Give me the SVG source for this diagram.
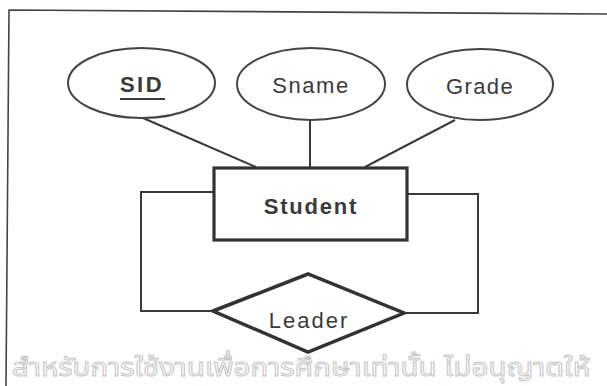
<svg xmlns="http://www.w3.org/2000/svg" width="607" height="386" viewBox="0 0 607 386">
<style>
.attr{fill:#fff;stroke:#444;stroke-width:2}
.conn{fill:none;stroke:#3a3a3a;stroke-width:2}
.lbl{font-family:"Liberation Sans",Arial,sans-serif;font-size:22px;fill:#3a3a3a;text-anchor:middle}
.wm{font-family:"Noto Sans Thai","Loma","Garuda","Noto Sans",sans-serif;font-size:25px;fill:none;stroke:#c8c8c8;stroke-width:1}
</style>
<rect width="607" height="386" fill="#fff"/>
<g id="frame" fill="none" stroke="#444" stroke-width="1.6">
<polyline points="607,14 9,10 6,386"/>
</g>
<text class="wm" x="12" y="376" textLength="578" lengthAdjust="spacingAndGlyphs">สำหรับการใช้งานเพื่อการศึกษาเท่านั้น ไม่อนุญาตให้</text>
<g id="connectors">
<line class="conn" x1="143" y1="118" x2="256" y2="167"/>
<line class="conn" x1="310" y1="120" x2="310" y2="167"/>
<line class="conn" x1="455" y1="120" x2="365" y2="167"/>
<polyline class="conn" points="213,192 141,192 141,311 213,311"/>
<polyline class="conn" points="407,194 478,194 478,313 404,313"/>
</g>
<g id="sid">
<ellipse class="attr" cx="141.5" cy="83" rx="73.5" ry="35"/>
<text class="lbl" x="142" y="92" font-weight="bold" letter-spacing="2.5">SID</text>
<line x1="120" y1="99" x2="165" y2="99" stroke="#3a3a3a" stroke-width="2.2"/>
</g>
<g id="sname">
<ellipse class="attr" cx="311" cy="84" rx="74" ry="36"/>
<text class="lbl" x="311" y="93" letter-spacing="1.6">Sname</text>
</g>
<g id="grade">
<ellipse class="attr" cx="480" cy="84.5" rx="73" ry="35.5"/>
<text class="lbl" x="480" y="94" letter-spacing="1.4">Grade</text>
</g>
<g id="student">
<rect x="214" y="168" width="193" height="72" fill="#fff" stroke="#333" stroke-width="3.2"/>
<text class="lbl" x="311" y="214" font-weight="bold" letter-spacing="1.8">Student</text>
</g>
<g id="leader">
<polygon points="213,311 308,274 404,313 308,352" fill="#fff" stroke="#333" stroke-width="3.5" stroke-linejoin="miter"/>
<text class="lbl" x="309" y="328" letter-spacing="2">Leader</text>
</g>
</svg>
